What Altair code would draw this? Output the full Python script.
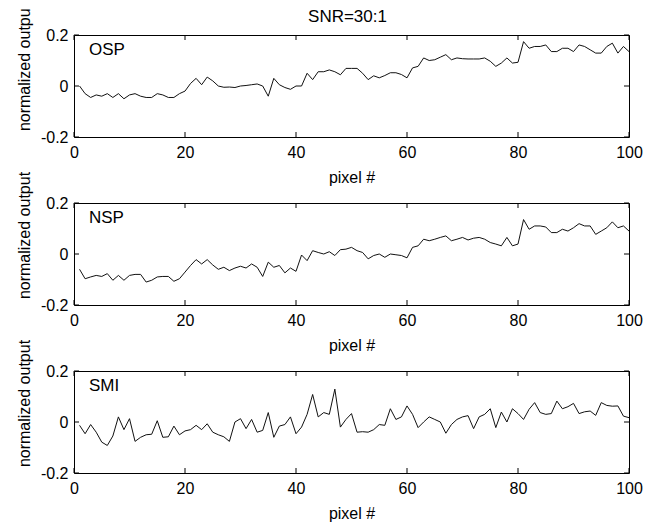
import altair as alt
import pandas as pd

pixels = list(range(1, 101))

osp = [0.0, -0.03, -0.045, -0.035, -0.04, -0.03, -0.045, -0.03, -0.05, -0.035,
       -0.03, -0.04, -0.045, -0.045, -0.03, -0.035, -0.045, -0.045, -0.03, -0.02,
       0.01, 0.03, 0.005, 0.035, 0.02, 0.0, -0.005, -0.004, -0.006, 0.0,
       0.002, 0.005, 0.008, 0.0, -0.04, 0.03, 0.005, -0.006, -0.013, 0.0,
       0.0, 0.05, 0.025, 0.056, 0.056, 0.063, 0.056, 0.044, 0.069, 0.069,
       0.069, 0.05, 0.025, 0.04, 0.032, 0.041, 0.052, 0.052, 0.045, 0.032,
       0.071, 0.077, 0.11, 0.1, 0.103, 0.113, 0.123, 0.103, 0.11, 0.107,
       0.106, 0.106, 0.106, 0.11, 0.097, 0.077, 0.09, 0.11, 0.09, 0.093,
       0.174, 0.148, 0.155, 0.155, 0.161, 0.135, 0.135, 0.148, 0.148, 0.135,
       0.161, 0.155, 0.142, 0.129, 0.129, 0.155, 0.168, 0.129, 0.155, 0.135]

nsp = [-0.06, -0.097, -0.09, -0.084, -0.088, -0.077, -0.103, -0.084, -0.103, -0.084,
       -0.08, -0.08, -0.11, -0.103, -0.09, -0.088, -0.088, -0.107, -0.097, -0.071,
       -0.045, -0.022, -0.039, -0.022, -0.043, -0.06, -0.052, -0.065, -0.055, -0.048,
       -0.055, -0.039, -0.052, -0.088, -0.032, -0.052, -0.045, -0.074, -0.055, -0.068,
       -0.004, -0.026, 0.013, 0.006, 0.0, 0.009, -0.006, 0.017, 0.019, 0.026,
       0.013, 0.006, -0.019, -0.006, 0.0, -0.013, 0.0, -0.003, -0.006, -0.015,
       0.026, 0.032, 0.058, 0.052, 0.058, 0.065, 0.071, 0.052, 0.058, 0.065,
       0.055, 0.062, 0.065, 0.058, 0.045, 0.039, 0.032, 0.065, 0.032, 0.039,
       0.135, 0.097, 0.11, 0.11, 0.106, 0.084, 0.084, 0.097, 0.09, 0.103,
       0.119, 0.11, 0.11, 0.077, 0.09, 0.103, 0.126, 0.103, 0.11, 0.09]

smi = [-0.013, -0.046, -0.01, -0.04, -0.079, -0.092, -0.055, 0.02, -0.03, 0.013,
       -0.076, -0.06, -0.05, -0.048, 0.005, -0.06, -0.058, -0.016, -0.05, -0.035,
       -0.03, -0.013, -0.03, -0.007, -0.04, -0.05, -0.058, -0.076, 0.0, 0.013,
       -0.026, 0.01, -0.04, -0.033, 0.037, -0.06, -0.016, -0.01, 0.02, -0.046,
       -0.02, 0.03, 0.108, 0.02, 0.037, 0.03, 0.129, -0.02, 0.01, 0.033,
       -0.04, -0.038, -0.04, -0.03, -0.01, -0.013, 0.052, 0.01, 0.02, 0.063,
       0.03, -0.022, 0.0, 0.02, 0.01, 0.0, -0.044, -0.01, 0.01, 0.02,
       0.025, -0.026, 0.02, 0.03, 0.052, -0.022, 0.039, 0.0, 0.052, 0.033,
       0.01, 0.05, 0.076, 0.037, 0.03, 0.033, 0.082, 0.052, 0.06, 0.073,
       0.033, 0.04, 0.043, 0.026, 0.076, 0.065, 0.062, 0.063, 0.023, 0.017]

names = ["OSP", "NSP", "SMI"]
x_ticks = [0, 20, 40, 60, 80, 100]
y_ticks = [-0.2, 0, 0.2]
main_title = "SNR=30:1"

FONT = "Liberation Sans"
W, H = 555, 102
TICK = 5
FS = 16


def panel(name, values, with_title=False):
    df = pd.DataFrame({"pixel": pixels, "value": values})
    xs = alt.Scale(domain=[0, 100], nice=False, zero=False)
    ys = alt.Scale(domain=[-0.2, 0.2], nice=False, zero=False)
    xaxis = alt.Axis(values=x_ticks, title="pixel #", ticks=False, domain=False,
                     grid=False, labelPadding=7, titlePadding=9,
                     labelFontSize=FS, titleFontSize=FS, labelFont=FONT,
                     titleFont=FONT, titleFontWeight="normal", labelColor="black",
                     titleColor="black", labelFlush=False)
    yaxis = alt.Axis(values=y_ticks, title="normalized output", ticks=False,
                     domain=False, grid=False, labelPadding=6, titlePadding=8,
                     titleY=32,
                     labelFontSize=FS, titleFontSize=FS, labelFont=FONT,
                     titleFont=FONT, titleFontWeight="normal", labelColor="black",
                     titleColor="black", labelFlush=False,
                     labelExpr="datum.value == 0 ? '0' : toString(datum.value)")
    line = alt.Chart(df).mark_line(color="#111", strokeWidth=1).encode(
        x=alt.X("pixel:Q", scale=xs, axis=xaxis),
        y=alt.Y("value:Q", scale=ys, axis=yaxis),
    )
    xt = pd.DataFrame({"t": x_ticks})
    yt = pd.DataFrame({"t": y_ticks})
    bot = alt.Chart(xt).mark_rule(color="black", strokeWidth=1).encode(
        x=alt.X("t:Q", scale=xs), y=alt.value(H), y2=alt.value(H - TICK))
    top = alt.Chart(xt).mark_rule(color="black", strokeWidth=1).encode(
        x=alt.X("t:Q", scale=xs), y=alt.value(0), y2=alt.value(TICK))
    left = alt.Chart(yt).mark_rule(color="black", strokeWidth=1).encode(
        y=alt.Y("t:Q", scale=ys), x=alt.value(0), x2=alt.value(TICK))
    right = alt.Chart(yt).mark_rule(color="black", strokeWidth=1).encode(
        y=alt.Y("t:Q", scale=ys), x=alt.value(W), x2=alt.value(W - TICK))
    label = alt.Chart(pd.DataFrame({"label": [name]})).mark_text(
        align="left", baseline="top", fontSize=17, font=FONT, color="black"
    ).encode(text="label:N", x=alt.value(15), y=alt.value(7))
    layers = [line, bot, top, left, right, label]
    if with_title:
        ttl = alt.Chart(pd.DataFrame({"title": [main_title]})).mark_text(
            align="center", baseline="top", fontSize=17, font=FONT, color="black"
        ).encode(text="title:N", x=alt.value(W / 2 - 4), y=alt.value(-26))
        layers.append(ttl)
    return alt.layer(*layers).properties(width=W, height=H)


chart = alt.vconcat(
    panel(names[0], osp, True),
    panel(names[1], nsp),
    panel(names[2], smi),
    spacing=66,
    bounds="flush",
).properties(
    padding={"left": 7, "top": -6, "right": 5, "bottom": 5}
).configure_view(stroke="black", strokeWidth=1)

chart.save("out.html", embed_options={"renderer": "svg", "actions": False})
